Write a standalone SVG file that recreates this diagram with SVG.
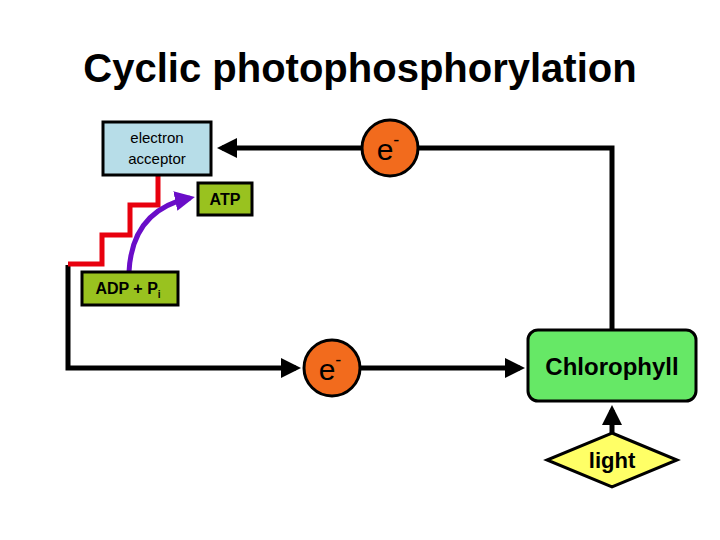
<svg xmlns="http://www.w3.org/2000/svg" width="720" height="540" viewBox="0 0 720 540">
<style>
text{font-family:"Liberation Sans",Arial,sans-serif;fill:#000}
.ln{stroke:#000;stroke-width:5;fill:none}
.b{font-weight:bold}
</style>
<defs>
<marker id="ah" markerWidth="4" markerHeight="4" refX="3" refY="2" orient="auto" markerUnits="strokeWidth"><path d="M0,0L4,2L0,4z" fill="#000"/></marker>
<marker id="ap" markerWidth="4" markerHeight="4" refX="3" refY="2" orient="auto" markerUnits="strokeWidth"><path d="M0,0L4,2L0,4z" fill="#6a0dc8"/></marker>
</defs>
<rect width="720" height="540" fill="#fff"/>
<text x="360" y="82" font-size="40" text-anchor="middle" class="b">Cyclic photophosphorylation</text>
<g id="connectors">
<path class="ln" d="M418,148H612V330"/>
<path class="ln" d="M362,148H222" marker-end="url(#ah)"/>
<path class="ln" d="M68,265V368H296" marker-end="url(#ah)"/>
<path class="ln" d="M360,368H520" marker-end="url(#ah)"/>
<path class="ln" d="M612,433V410" marker-end="url(#ah)"/>
<path d="M68,264H102V235H130V205H158V175" stroke="#e8000e" stroke-width="5" fill="none"/>
<path d="M129,272Q132,210 190,198" stroke="#6a0dc8" stroke-width="5" fill="none" marker-end="url(#ap)"/>
</g>
<g id="acceptor"><rect x="103" y="122" width="108" height="53" fill="#b7dde8" stroke="#000" stroke-width="3"/>
<text x="157" y="143" font-size="15" text-anchor="middle">electron</text><text x="157" y="164" font-size="15" text-anchor="middle">acceptor</text></g>
<g id="e1"><circle cx="390" cy="148" r="28" fill="#f26b1d" stroke="#000" stroke-width="3"/><text x="388" y="160" font-size="30" text-anchor="middle">e<tspan font-size="18" dy="-14">-</tspan></text></g>
<g id="e2"><circle cx="332" cy="368" r="28" fill="#f26b1d" stroke="#000" stroke-width="3"/><text x="330" y="380" font-size="30" text-anchor="middle">e<tspan font-size="18" dy="-14">-</tspan></text></g>
<g id="atp"><rect x="198" y="183" width="54" height="32" fill="#99c21f" stroke="#000" stroke-width="3"/><text x="225" y="205" font-size="16" text-anchor="middle" class="b">ATP</text></g>
<g id="adp"><rect x="82" y="272" width="96" height="33" fill="#99c21f" stroke="#000" stroke-width="3"/><text x="128" y="294" font-size="16" text-anchor="middle" class="b">ADP + P<tspan font-size="10" dy="4">i</tspan></text></g>
<g id="chlorophyll"><rect x="528" y="330" width="168" height="71" rx="10" fill="#66e866" stroke="#000" stroke-width="3"/><text x="612" y="375" font-size="24" text-anchor="middle" class="b">Chlorophyll</text></g>
<g id="light"><path d="M612,433L677,460L612,487L547,460z" fill="#ffff66" stroke="#000" stroke-width="3"/><text x="612" y="468" font-size="22" text-anchor="middle" class="b">light</text></g>
</svg>
